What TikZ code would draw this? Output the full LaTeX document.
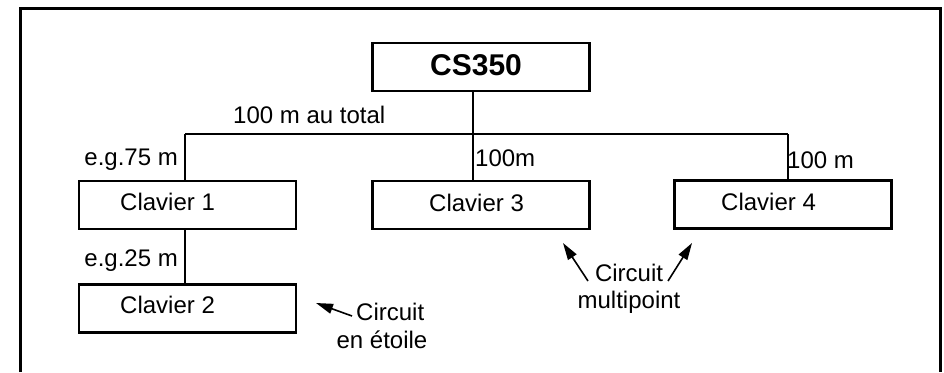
\documentclass[tikz,border=0pt]{standalone}
\usepackage{fontspec}
\setmainfont{Liberation Sans}
\usetikzlibrary{arrows.meta}
\begin{document}
\begin{tikzpicture}[x=1pt,y=-1pt,
  unitbox/.style={draw,line width=2.2pt,minimum width=217pt,minimum height=48pt,inner sep=0pt},
  txt/.style={inner sep=0pt,font=\fontsize{24}{28}\selectfont},
  title/.style={inner sep=0pt,font=\fontsize{30}{34}\selectfont\bfseries},
  wire/.style={line width=1.7pt},
  pointer/.style={line width=1.6pt,-{Triangle[length=17pt,width=10pt]}}]
\useasboundingbox (0,0) rectangle (944,372);
% open frame
\draw[line width=2.8pt] (20.7,372) -- (20.7,8.5) -- (940.3,8.5) -- (940.3,372);

% controller and keypads
\node[unitbox] (cs) at (481,67) {};
\node[unitbox] (k1) at (187.5,205) {};
\node[unitbox] (k2) at (187.5,308.5) {};
\node[unitbox] (k3) at (481,205) {};
\node[unitbox] (k4) at (783,204.5) {};

\node[title,anchor=base west] (cst) at (430,75) {CS350};
\node[txt,anchor=base west] (k1t) at (120,210) {Clavier 1};
\node[txt,anchor=base west] (k2t) at (120,313) {Clavier 2};
\node[txt,anchor=base west] (k3t) at (429,211.5) {Clavier 3};
\node[txt,anchor=base west] (k4t) at (721,210.5) {Clavier 4};

% bus wiring
\coordinate (j1) at (185,134);
\coordinate (jc) at (473,134);
\coordinate (j4) at (788,134);
\draw[wire] (cs.south -| jc) -- (jc);
\draw[wire] (j1) -- (j4);
\draw[wire] (j1) -- (k1.north -| j1);
\draw[wire] (jc) -- (k3.north -| jc);
\draw[wire] (j4) -- (k4.north -| j4);
\draw[wire] (k1.south -| j1) -- (k2.north -| j1);

% cable lengths
\node[txt,anchor=base west] (ltot) at (233,123) {100 m au total};
\node[txt,anchor=base east] (l1) at (178,165) {e.g.75 m};
\node[txt,anchor=base west] (l3) at (475,166.5) {100m};
\node[txt,anchor=base west] (l4) at (787,168) {100 m};
\node[txt,anchor=base east] (l2) at (178,266.5) {e.g.25 m};

% circuit notes
\node[txt,anchor=base] (mp1) at (629,281.5) {Circuit};
\node[txt,anchor=base] (mp2) at (629,308.3) {multipoint};
\node[txt,anchor=base west] (st1) at (356,320) {Circuit};
\node[txt,anchor=base] (st2) at (382,348) {en étoile};

\coordinate (a1s) at (588,281);
\coordinate (a1e) at (563,243);
\coordinate (a2s) at (668,281);
\coordinate (a2e) at (692,243);
\coordinate (a3s) at (352,316);
\coordinate (a3e) at (316,303);
\draw[pointer] (a1s) -- (a1e);
\draw[pointer] (a2s) -- (a2e);
\draw[pointer] (a3s) -- (a3e);
\end{tikzpicture}
\end{document}
